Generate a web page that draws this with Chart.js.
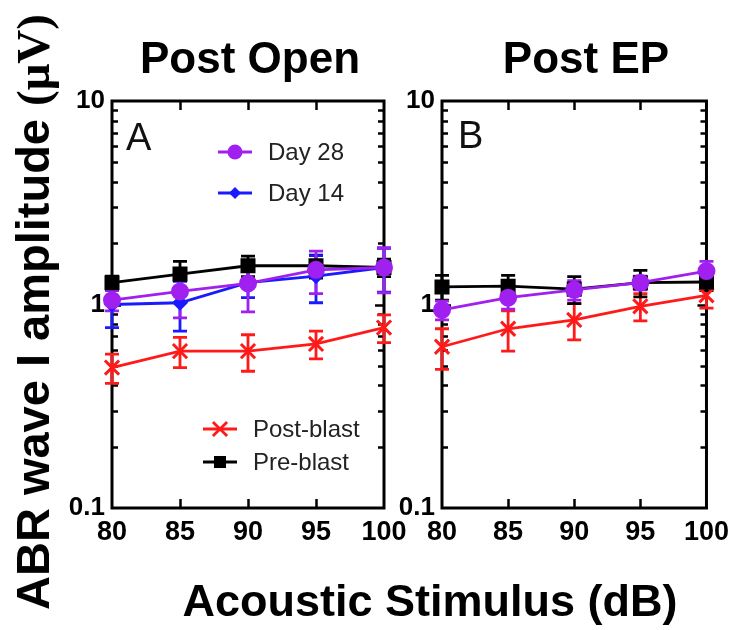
<!DOCTYPE html>
<html>
<head>
<meta charset="utf-8">
<script src="https://cdn.jsdelivr.net/npm/chart.js@4.4.1/dist/chart.umd.min.js"></script>
<style>
    body { margin: 0; background: #fff; }
    #wrap { position: relative; width: 737px; height: 630px; overflow: hidden; font-family: "Liberation Sans", Arial, sans-serif; }
    canvas { position: absolute; top: 0; }
    .title { position: absolute; top: 36px; font-size: 44px; font-weight: bold; line-height: 1; text-align: center; white-space: nowrap; }
    #ytitle { position: absolute; left: 33px; top: 312px; transform: translate(-50%, -50%) rotate(-90deg);
              font-size: 47px; font-weight: bold; white-space: nowrap; line-height: 1; }
    #ytitle .unit { font-family: "Liberation Serif", serif; }
    #xtitle { position: absolute; left: 180px; width: 500px; top: 578px; font-size: 45px; font-weight: bold;
              text-align: center; line-height: 1; white-space: nowrap; }
</style>
</head>
<body>
<div id="wrap">
    <canvas id="chart-open" width="420" height="630" style="left:0px"></canvas>
    <canvas id="chart-ep" width="342" height="630" style="left:395px"></canvas>
    <div class="title" style="left:140px; width:200px;">Post Open</div>
    <div class="title" style="left:486px; width:200px;">Post EP</div>
    <div id="ytitle">ABR wave I amplitude <span class="unit">(μV)</span></div>
    <div id="xtitle">Acoustic Stimulus (dB)</div>
</div>
<script>
// stimulus levels (dB)
const xValues = [80, 85, 90, 95, 100];
// log axis tick positions and which ones get a label
const yTickValues = [0.1, 0.2, 0.3, 0.4, 0.5, 0.6, 0.7, 0.8, 0.9, 1, 2, 3, 4, 5, 6, 7, 8, 9, 10];
const yTickLabels = ['0.1', '1', '10'];

// panel A - Post Open (mean and SEM, µV)
const openPre = [1.28, 1.41, 1.55, 1.55, 1.52];
const openPreErr = [0.1, 0.22, 0.18, 0.2, 0.15];
const openPost = [0.49, 0.59, 0.59, 0.64, 0.77];
const openPostErr = [0.08, 0.1, 0.12, 0.1, 0.12];
const openDay28 = [1.05, 1.16, 1.27, 1.48, 1.52];
const openDay28Err = [0.12, 0.3, 0.35, 0.35, 0.38];
const openDay14 = [1.0, 1.02, 1.28, 1.38, 1.52];
const openDay14Err = [0.23, 0.28, 0.2, 0.36, 0.37];

// panel B - Post EP
const epPre = [1.22, 1.23, 1.19, 1.28, 1.29];
const epPreErr = [0.17, 0.16, 0.18, 0.19, 0.12];
const epPost = [0.62, 0.76, 0.84, 0.98, 1.11];
const epPostErr = [0.14, 0.17, 0.17, 0.15, 0.15];
const epDay28 = [0.94, 1.08, 1.18, 1.28, 1.46];
const epDay28Err = [0.1, 0.13, 0.13, 0.1, 0.17];

const RED = '#ff1a1a';
const BLACK = '#000000';
const PURPLE = '#a020f0';
const BLUE = '#1a1aff';

const styles = {
    'Pre-blast': { color: BLACK, pointStyle: 'rect', radius: 8.5 },
    'Post-blast': { color: RED, pointStyle: 'crossRot', radius: 10 },
    'Day 28': { color: PURPLE, pointStyle: 'circle', radius: 7.5 },
    'Day 14': { color: BLUE, pointStyle: 'rectRot', radius: 6 }
};

function makeDataset(label, values, errors) {
    const st = styles[label];
    return {
        label: label,
        data: xValues.map((x, i) => ({ x: x, y: values[i] })),
        errors: errors,
        borderColor: st.color,
        backgroundColor: st.color,
        pointBackgroundColor: st.color,
        pointBorderColor: st.color,
        pointStyle: st.pointStyle,
        pointRadius: st.radius,
        pointBorderWidth: 3,
        borderWidth: 2.8,
        tension: 0,
        clip: false
    };
}

// box around the plot with inward ticks, like the original graph
const framePlugin = {
    id: 'frame',
    beforeDatasetsDraw(chart) {
        const ctx = chart.ctx;
        const a = chart.chartArea;
        const xs = chart.scales.x;
        const ys = chart.scales.y;
        ctx.save();
        ctx.strokeStyle = '#000';
        ctx.lineWidth = 2.5;
        yTickValues.forEach(v => {
            if (v === 0.1 || v === 10) return;
            const y = Math.round(ys.getPixelForValue(v)) + 0.5;
            const len = v === 1 ? 9 : 6;
            ctx.beginPath();
            ctx.moveTo(a.left, y); ctx.lineTo(a.left + len, y);
            ctx.moveTo(a.right, y); ctx.lineTo(a.right - len, y);
            ctx.stroke();
        });
        xValues.forEach(v => {
            if (v === xs.min || v === xs.max) return;
            const x = Math.round(xs.getPixelForValue(v)) + 0.5;
            ctx.beginPath();
            ctx.moveTo(x, a.bottom); ctx.lineTo(x, a.bottom - 9);
            ctx.moveTo(x, a.top); ctx.lineTo(x, a.top + 9);
            ctx.stroke();
        });
        ctx.lineWidth = 3;
        ctx.strokeRect(a.left, a.top, a.right - a.left, a.bottom - a.top);
        ctx.restore();
    }
};

const errorBarsPlugin = {
    id: 'errorBars',
    beforeDatasetsDraw(chart) {
        const ctx = chart.ctx;
        const xs = chart.scales.x;
        const ys = chart.scales.y;
        ctx.save();
        ctx.lineWidth = 2.8;
        chart.data.datasets.slice().reverse().forEach(ds => {
            ctx.strokeStyle = ds.borderColor;
            ds.data.forEach((p, i) => {
                const e = ds.errors[i];
                const x = xs.getPixelForValue(p.x);
                const yTop = ys.getPixelForValue(p.y + e);
                const yBot = ys.getPixelForValue(p.y - e);
                ctx.beginPath();
                ctx.moveTo(x, yTop); ctx.lineTo(x, yBot);
                ctx.moveTo(x - 7, yTop); ctx.lineTo(x + 7, yTop);
                ctx.moveTo(x - 7, yBot); ctx.lineTo(x + 7, yBot);
                ctx.stroke();
            });
        });
        ctx.restore();
    }
};

function drawMarker(ctx, style, color, x, y) {
    const st = styles[style];
    ctx.fillStyle = color;
    ctx.strokeStyle = color;
    ctx.lineWidth = 2.8;
    const r = st.radius;
    ctx.beginPath();
    if (st.pointStyle === 'circle') {
        ctx.arc(x, y, r, 0, Math.PI * 2);
        ctx.fill();
    } else if (st.pointStyle === 'rect') {
        const h = r * Math.SQRT1_2;
        ctx.fillRect(x - h, y - h, 2 * h, 2 * h);
    } else if (st.pointStyle === 'rectRot') {
        ctx.moveTo(x, y - r); ctx.lineTo(x + r, y); ctx.lineTo(x, y + r); ctx.lineTo(x - r, y);
        ctx.closePath();
        ctx.fill();
    } else if (st.pointStyle === 'crossRot') {
        const h = r * Math.SQRT1_2;
        ctx.moveTo(x - h, y - h); ctx.lineTo(x + h, y + h);
        ctx.moveTo(x + h, y - h); ctx.lineTo(x - h, y + h);
        ctx.stroke();
    }
}

// in-plot legend blocks
const legendPlugin = {
    id: 'plotLegend',
    afterDatasetsDraw(chart, args, opts) {
        const ctx = chart.ctx;
        ctx.save();
        (opts.items || []).forEach(it => {
            const color = styles[it.label].color;
            ctx.strokeStyle = color;
            ctx.lineWidth = 2.8;
            ctx.beginPath();
            ctx.moveTo(it.x, it.y);
            ctx.lineTo(it.x + 34, it.y);
            ctx.stroke();
            drawMarker(ctx, it.label, color, it.x + 17, it.y);
            ctx.fillStyle = '#222';
            ctx.font = '24px "Liberation Sans", Arial, sans-serif';
            ctx.textBaseline = 'middle';
            ctx.textAlign = 'left';
            ctx.fillText(it.label, it.x + 50, it.y + 1);
        });
        if (opts.letter) {
            ctx.fillStyle = '#111';
            ctx.font = '38px "Liberation Sans", Arial, sans-serif';
            ctx.textBaseline = 'alphabetic';
            ctx.fillText(opts.letter.text, opts.letter.x, opts.letter.y);
        }
        ctx.restore();
    }
};

function makeChart(canvasId, datasets, yWidth, rightPad, legendOpts) {
    const canvas = document.getElementById(canvasId);
    if (!canvas) {
        console.error("Canvas not found:", canvasId);
        return null;
    }
    const ctx = canvas.getContext('2d');
    return new Chart(ctx, {
        type: 'line',
        data: { datasets: datasets },
        plugins: [framePlugin, errorBarsPlugin, legendPlugin],
        options: {
            responsive: false,
            animation: false,
            devicePixelRatio: 1,
            layout: { padding: { top: 101, left: 0, right: rightPad, bottom: 0 } },
            plugins: {
                legend: { display: false },
                tooltip: { enabled: false },
                plotLegend: legendOpts
            },
            scales: {
                x: {
                    type: 'linear',
                    min: 80,
                    max: 100,
                    afterBuildTicks: scale => {
                        scale.ticks = xValues.map(v => ({ value: v }));
                    },
                    afterFit: scale => { scale.height = 122; },
                    grid: { display: false, drawTicks: false },
                    border: { display: false },
                    ticks: {
                        color: '#000',
                        padding: 8,
                        maxRotation: 0,
                        autoSkip: false,
                        font: { family: 'Liberation Sans', weight: 'bold', size: 27 },
                        callback: value => String(value)
                    }
                },
                y: {
                    type: 'logarithmic',
                    min: 0.1,
                    max: 10,
                    afterBuildTicks: scale => {
                        scale.ticks = yTickValues.map(v => ({ value: v }));
                    },
                    afterFit: scale => { scale.width = yWidth; },
                    grid: { display: false, drawTicks: false },
                    border: { display: false },
                    ticks: {
                        color: '#000',
                        padding: 7,
                        autoSkip: false,
                        font: { family: 'Liberation Sans', weight: 'bold', size: 26 },
                        callback: value => {
                            const s = String(value);
                            return yTickLabels.includes(s) ? s : '';
                        }
                    }
                }
            }
        }
    });
}

window.chartOpen = makeChart('chart-open', [
    makeDataset('Day 28', openDay28, openDay28Err),
    makeDataset('Day 14', openDay14, openDay14Err),
    makeDataset('Pre-blast', openPre, openPreErr),
    makeDataset('Post-blast', openPost, openPostErr)
], 112, 36, {
    items: [
        { label: 'Day 28', x: 218, y: 152 },
        { label: 'Day 14', x: 218, y: 193 },
        { label: 'Post-blast', x: 203, y: 429 },
        { label: 'Pre-blast', x: 203, y: 462 }
    ],
    letter: { text: 'A', x: 126, y: 150 }
});

window.chartEp = makeChart('chart-ep', [
    makeDataset('Day 28', epDay28, epDay28Err),
    makeDataset('Pre-blast', epPre, epPreErr),
    makeDataset('Post-blast', epPost, epPostErr)
], 47, 24, {
    letter: { text: 'B', x: 63, y: 148 }
});
</script>
</body>
</html>
